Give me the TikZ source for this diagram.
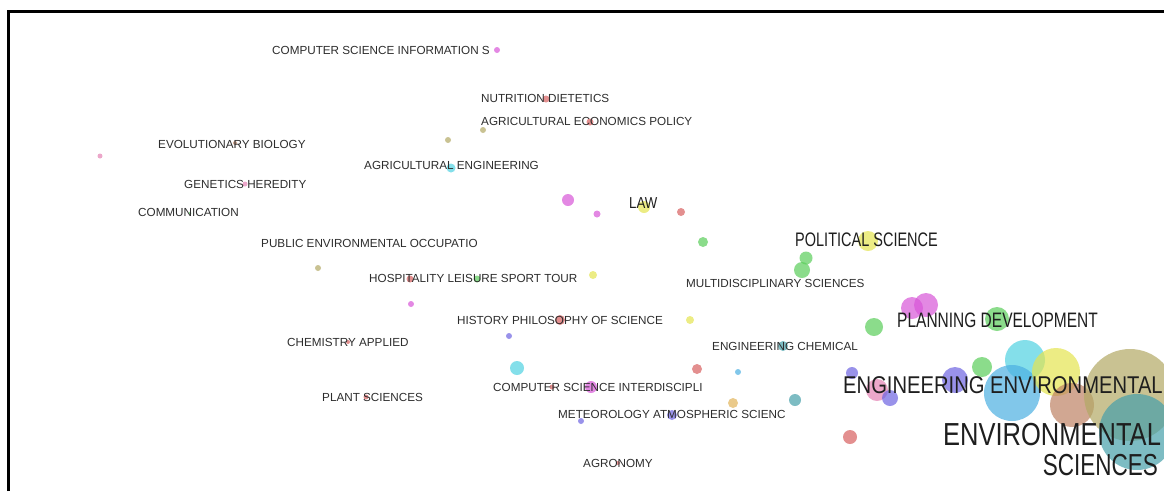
\documentclass[tikz,border=0pt]{standalone}
\usepackage{graphicx}
\usepackage{fontspec}
\setmainfont{Liberation Sans}
\usepackage{tikz}

\definecolor{cmag}{RGB}{215,85,215}
\definecolor{cgreen}{RGB}{90,205,90}
\definecolor{cyel}{RGB}{228,228,80}
\definecolor{cred}{RGB}{215,95,95}
\definecolor{ccyan}{RGB}{80,210,225}
\definecolor{csky}{RGB}{75,175,225}
\definecolor{cpurp}{RGB}{110,100,225}
\definecolor{cteal}{RGB}{70,160,170}
\definecolor{colive}{RGB}{178,168,100}
\definecolor{cbrown}{RGB}{190,130,100}
\definecolor{corange}{RGB}{225,180,90}
\definecolor{cpink}{RGB}{228,130,180}
\definecolor{txtgray}{RGB}{45,45,45}
\definecolor{txtdark}{RGB}{30,30,30}

\newcommand{\tallbox}[2]{\scalebox{1}[#1]{#2}}

\begin{document}
\begin{tikzpicture}[x=1pt,y=-1pt,
  lbl/.style={anchor=west,inner sep=0pt,text=txtgray,font=\fontsize{11.7}{13}\selectfont},
  big/.style={anchor=west,inner sep=0pt,text=txtdark},
  bub/.style={fill opacity=0.7}]
\useasboundingbox (0,0) rectangle (1164,491);
\clip (0,0) rectangle (1164,491);
\draw[line width=3pt] (8,491) -- (8,11) -- (1164,11);

% small dots
\fill[bub,cpink] (100,156) circle (2.5);
\fill[bub,cbrown] (235,143) circle (2);
\fill[bub,cpink] (245,184) circle (2.5);
\fill[bub,cgreen] (190,213) circle (1.5);
\fill[bub,cmag] (497,50) circle (3);
\fill[bub,colive] (448,140) circle (3);
\fill[bub,colive] (483,130) circle (3);
\fill[bub,cred] (546,99) circle (3.5);
\fill[bub,cred] (590,122) circle (3.5);
\fill[bub,ccyan] (451,168) circle (4.5);
\fill[bub,cmag] (568,200) circle (6);
\fill[bub,cmag] (597,214) circle (3.5);
\fill[bub,cyel] (644,207) circle (6);
\fill[bub,cred] (681,212) circle (4);
\fill[bub,cgreen] (703,242) circle (5);
\fill[bub,colive] (318,268) circle (3);
\fill[bub,cred] (410,279) circle (3.5);
\fill[bub,cgreen] (477,279) circle (3.5);
\fill[bub,cyel] (593,275) circle (4);
\fill[bub,cmag] (411,304) circle (3);
\fill[bub,cred] (560,320) circle (5);
\fill[bub,cyel] (690,320) circle (4);
\fill[bub,cpurp] (509,336) circle (3);
\fill[bub,cred] (348,342) circle (2);
\fill[bub,cred] (366,397) circle (2.5);
\fill[bub,ccyan] (517,368) circle (7);
\fill[bub,cred] (697,369) circle (5);
\fill[bub,csky] (738,372) circle (3);
\fill[bub,cmag] (591,387) circle (6);
\fill[bub,cred] (552,387) circle (2.5);
\fill[bub,cteal] (783,346) circle (5);
\fill[bub,corange] (733,403) circle (5);
\fill[bub,cteal] (795,400) circle (6);
\fill[bub,cpurp] (581,421) circle (3);
\fill[bub,cpurp] (672,415) circle (5);
\fill[bub,cred] (618,463) circle (2);
% right cluster
\fill[bub,cgreen] (806,258) circle (6.5);
\fill[bub,cgreen] (802,270) circle (8);
\fill[bub,cyel] (868,241) circle (10);
\fill[bub,cgreen] (874,327) circle (9);
\fill[bub,cmag] (912,308) circle (11);
\fill[bub,cmag] (926,305) circle (12);
\fill[bub,cgreen] (997,319) circle (12);
\fill[bub,cpurp] (852,373) circle (6);
\fill[bub,cpink] (877,390) circle (11);
\fill[bub,cpurp] (890,398) circle (8);
\fill[bub,cpurp] (955,380) circle (13);
\fill[bub,cgreen] (982,367) circle (10);
\fill[bub,cred] (850,437) circle (7);
\fill[bub,ccyan] (1025,360) circle (20);
\fill[bub,csky] (1012,393) circle (28);
\fill[bub,cyel] (1056,372) circle (24);
\fill[bub,cbrown] (1072,405) circle (22);
\fill[bub,colive] (1130,395) circle (46);
\fill[bub,cteal] (1137,432) circle (38);

% labels
\node[lbl] (csinfo) at (272,50) {COMPUTER SCIENCE INFORMATION S};
\node[lbl] (nutri) at (481,98) {NUTRITION DIETETICS};
\node[lbl] (agecon) at (481,121) {AGRICULTURAL ECONOMICS POLICY};
\node[lbl] (evobio) at (158,144) {EVOLUTIONARY BIOLOGY};
\node[lbl] (agreng) at (364,165) {AGRICULTURAL ENGINEERING};
\node[lbl] (genet) at (184,184) {GENETICS HEREDITY};
\node[lbl] (comm) at (138,212) {COMMUNICATION};
\node[big,font=\fontsize{13.2}{15}\selectfont] (law) at (629,203) {\tallbox{1.2}{LAW}};
\node[lbl] (pubenv) at (261,243) {PUBLIC ENVIRONMENTAL OCCUPATIO};
\node[lbl] (hosp) at (369,278) {HOSPITALITY LEISURE SPORT TOUR};
\node[lbl] (multi) at (686,283) {MULTIDISCIPLINARY SCIENCES};
\node[lbl] (histphil) at (457,320) {HISTORY PHILOSOPHY OF SCIENCE};
\node[lbl] (chemapp) at (287,342) {CHEMISTRY APPLIED};
\node[lbl] (engchem) at (712,346) {ENGINEERING CHEMICAL};
\node[lbl] (csinter) at (493,387) {COMPUTER SCIENCE INTERDISCIPLI};
\node[lbl] (plant) at (322,397) {PLANT SCIENCES};
\node[lbl] (meteo) at (558,414) {METEOROLOGY ATMOSPHERIC SCIENC};
\node[lbl] (agron) at (583,463) {AGRONOMY};
% big labels
\node[big,font=\fontsize{14.5}{16}\selectfont] (polsci) at (795,240) {\tallbox{1.35}{POLITICAL SCIENCE}};
\node[big,font=\fontsize{15.5}{17}\selectfont] (planning) at (897,320) {\tallbox{1.35}{PLANNING DEVELOPMENT}};
\node[big,font=\fontsize{20.2}{22}\selectfont] (engenv) at (843,385) {\tallbox{1.2}{ENGINEERING ENVIRONMENTAL}};
\node[big,font=\fontsize{25.5}{28}\selectfont] (envsci) at (943,435) {\tallbox{1.25}{ENVIRONMENTAL}};
\node[big,anchor=east,font=\fontsize{22.5}{25}\selectfont] (sciences) at (1158,465) {\tallbox{1.35}{SCIENCES}};
\end{tikzpicture}
\end{document}
